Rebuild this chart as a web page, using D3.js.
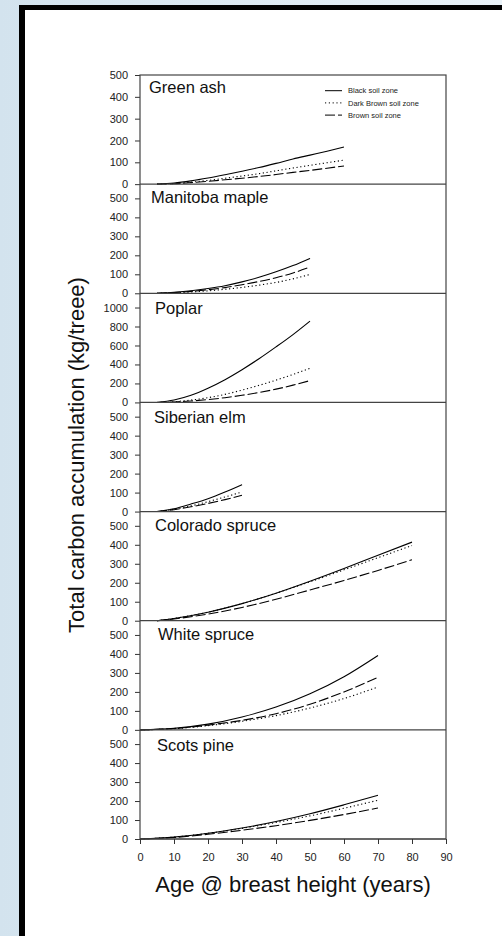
<!DOCTYPE html>
<html>
<head>
<meta charset="utf-8">
<script src="https://cdn.jsdelivr.net/npm/d3@7"></script>
<style>
html, body { margin: 0; padding: 0; overflow: hidden; }
body { width: 502px; height: 936px; background: linear-gradient(90deg, #d3e3ee, #e9f2f8); }
svg { display: block; font-family: "Liberation Sans", Arial, sans-serif; }
</style>
</head>
<body>
<svg width="502" height="936"></svg>
<script>
// panel names and soil zones
var species = ["Green ash", "Manitoba maple", "Poplar", "Siberian elm", "Colorado spruce", "White spruce", "Scots pine"];
var zones = ["Black soil zone", "Dark Brown soil zone", "Brown soil zone"];

// values (kg/tree) per age
var greenAshAge   = [5, 10, 15, 20, 25, 30, 35, 40, 45, 50, 55, 60];
var greenAshBlack = [0, 5, 15, 28, 43, 59, 76, 95, 115, 133, 151, 170];
var greenAshDark  = [0, 3, 9, 17, 27, 37, 48, 61, 74, 86, 98, 110];
var greenAshBrown = [0, 2, 7, 13, 20, 27, 35, 44, 54, 63, 73, 83];

var mapleAge   = [5, 10, 15, 20, 25, 30, 35, 40, 45, 50];
var mapleBlack = [0, 5, 13, 25, 40, 60, 84, 113, 146, 184];
var mapleDark  = [0, 3, 7, 13, 21, 31, 43, 57, 76, 99];
var mapleBrown = [0, 4, 10, 19, 30, 45, 62, 82, 107, 138];

var poplarAge   = [5, 10, 15, 20, 25, 30, 35, 40, 45, 50];
var poplarBlack = [0, 25, 75, 150, 240, 345, 460, 585, 715, 857];
var poplarDark  = [0, 8, 25, 50, 85, 130, 180, 235, 295, 360];
var poplarBrown = [0, 5, 15, 30, 50, 75, 105, 140, 182, 230];

var elmAge   = [5, 10, 15, 20, 25, 30];
var elmBlack = [0, 15, 40, 68, 103, 142];
var elmDark  = [0, 12, 30, 52, 77, 103];
var elmBrown = [0, 10, 25, 43, 63, 86];

var coloradoAge   = [5, 10, 20, 30, 40, 50, 60, 70, 80];
var coloradoBlack = [0, 12, 45, 90, 145, 208, 275, 345, 414];
var coloradoDark  = [0, 12, 45, 90, 145, 205, 268, 332, 396];
var coloradoBrown = [0, 9, 35, 70, 113, 162, 212, 265, 321];

var whiteAge   = [0, 10, 20, 30, 40, 50, 60, 70];
var whiteBlack = [0, 8, 30, 68, 120, 190, 280, 392];
var whiteDark  = [0, 6, 22, 45, 75, 115, 165, 226];
var whiteBrown = [0, 7, 25, 50, 85, 135, 200, 277];

var scotsAge   = [0, 10, 20, 30, 40, 50, 60, 70];
var scotsBlack = [0, 10, 30, 58, 92, 133, 180, 230];
var scotsDark  = [0, 10, 30, 56, 87, 122, 162, 204];
var scotsBrown = [0, 8, 25, 46, 70, 98, 129, 163];

// axis ranges and ticks
var yMax = [500, 575, 1150, 575, 575, 575, 575];
var yTicksSmall = [0, 100, 200, 300, 400, 500];
var yTicksPoplar = [0, 200, 400, 600, 800, 1000];
var xTicks = [0, 10, 20, 30, 40, 50, 60, 70, 80, 90];

var series = [
    [greenAshAge, greenAshBlack, greenAshDark, greenAshBrown],
    [mapleAge, mapleBlack, mapleDark, mapleBrown],
    [poplarAge, poplarBlack, poplarDark, poplarBrown],
    [elmAge, elmBlack, elmDark, elmBrown],
    [coloradoAge, coloradoBlack, coloradoDark, coloradoBrown],
    [whiteAge, whiteBlack, whiteDark, whiteBrown],
    [scotsAge, scotsBlack, scotsDark, scotsBrown]
];

// layout
const plotLeft = 140;
const plotRight = 446;
const plotTop = 75;
const plotBottom = 839;
const panelH = (plotBottom - plotTop) / species.length;
const labelX = [149, 151, 155, 154, 155, 158, 157];
const labelDy = [17.5, 19, 21, 20.5, 19, 19, 21];
const dashes = [null, "1.2,2.6", "10,3"];

var svg = d3.select('svg');

// frame: white page with black top and left edges
svg.append('rect').attr('x', 25).attr('y', 10).attr('width', 600).attr('height', 1000).attr('fill', '#fff');
svg.append('rect').attr('x', 19).attr('y', 5).attr('width', 600).attr('height', 5).attr('fill', '#000');
svg.append('rect').attr('x', 19).attr('y', 5).attr('width', 6).attr('height', 1000).attr('fill', '#000');

const xScale = d3.scaleLinear().domain([0, 90]).range([plotLeft, plotRight]);

species.forEach(function(name, i) {
    let y0 = plotTop + i * panelH;
    let yScale = d3.scaleLinear().domain([0, yMax[i]]).range([y0 + panelH, y0]);
    let g = svg.append('g');

    // y-axis
    let ax = g.append('g')
        .attr('transform', `translate(${plotLeft}, 0)`)
        .call(d3.axisLeft(yScale)
            .tickValues(i == 2 ? yTicksPoplar : yTicksSmall)
            .tickFormat(d3.format('d'))
            .tickSize(5).tickPadding(7).tickSizeOuter(0));
    ax.select('.domain').remove();
    ax.selectAll('line').attr('stroke', '#333');
    ax.selectAll('text').attr('font-size', 11).attr('fill', '#222')
        .attr('font-family', '"Liberation Sans", Arial, sans-serif');

    // curves
    let s = series[i];
    zones.forEach(function(z, k) {
        let pts = s[0].map((a, j) => ({age: a, v: s[k + 1][j]}));
        g.append('path')
            .datum(pts)
            .attr('fill', 'none')
            .attr('stroke', '#000')
            .attr('stroke-width', 1.1)
            .attr('stroke-dasharray', dashes[k])
            .attr('d', d3.line()
                .x(d => xScale(d.age))
                .y(d => yScale(d.v))
                .curve(d3.curveMonotoneX));
    });

    // panel title
    g.append('text')
        .attr('x', labelX[i])
        .attr('y', y0 + labelDy[i])
        .attr('font-size', 16.5)
        .attr('fill', '#111')
        .text(name);

    // bottom line of panel
    g.append('line')
        .attr('x1', plotLeft).attr('x2', plotRight)
        .attr('y1', y0 + panelH).attr('y2', y0 + panelH)
        .attr('stroke', '#444').attr('stroke-width', 1.2);
});

// plot border
svg.append('rect')
    .attr('x', plotLeft).attr('y', plotTop)
    .attr('width', plotRight - plotLeft).attr('height', plotBottom - plotTop)
    .attr('fill', 'none').attr('stroke', '#444').attr('stroke-width', 1.2);

// x-axis
let xAx = svg.append('g')
    .attr('transform', `translate(0, ${plotBottom})`)
    .call(d3.axisBottom(xScale).tickValues(xTicks).tickSize(5).tickPadding(9).tickSizeOuter(0));
xAx.select('.domain').remove();
xAx.selectAll('line').attr('stroke', '#333');
xAx.selectAll('text').attr('font-size', 11).attr('fill', '#222')
    .attr('font-family', '"Liberation Sans", Arial, sans-serif');

// legend
let legend = svg.append('g');
zones.forEach(function(z, k) {
    let ly = 90.7 + k * 12.2;
    legend.append('line')
        .attr('x1', 325).attr('x2', 342)
        .attr('y1', ly).attr('y2', ly)
        .attr('stroke', '#000').attr('stroke-width', 1)
        .attr('stroke-dasharray', dashes[k]);
    legend.append('text')
        .attr('x', 348).attr('y', ly)
        .attr('dy', '0.35em')
        .attr('font-size', 7.5)
        .attr('fill', '#222')
        .text(z);
});

// X-axis label
svg.append('text')
    .attr('x', (plotLeft + plotRight) / 2)
    .attr('y', 892)
    .attr('text-anchor', 'middle')
    .attr('font-size', 22)
    .attr('fill', '#111')
    .text('Age @ breast height (years)');

// Y-axis label
svg.append('text')
    .attr('transform', `translate(84, ${(plotTop + plotBottom) / 2 - 2}) rotate(-90)`)
    .attr('text-anchor', 'middle')
    .attr('font-size', 22)
    .attr('fill', '#111')
    .text('Total carbon accumulation (kg/treee)');
</script>
</body>
</html>
